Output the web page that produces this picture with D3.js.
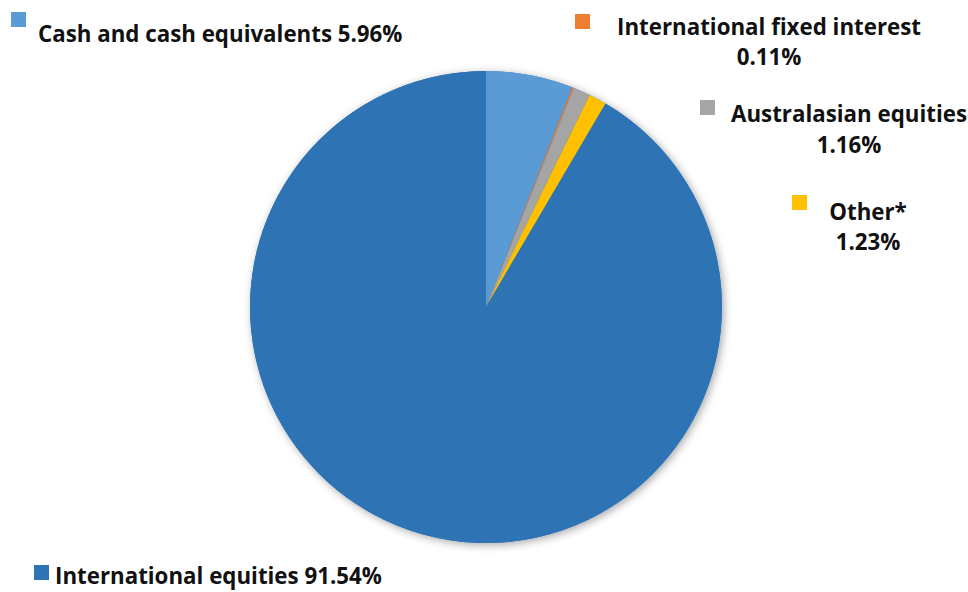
<!DOCTYPE html>
<html>
<head>
<meta charset="utf-8">
<script src="https://cdn.jsdelivr.net/npm/d3@7"></script>
<style>
  body { margin: 0; background: #fff; }
  svg text { font-family: "Open Sans", Lato, sans-serif; font-weight: 700; fill: #111; }
</style>
</head>
<body>
<div id="chart"></div>
<script>
// data
var categories = ["Cash and cash equivalents", "International fixed interest", "Australasian equities", "Other*", "International equities"];
var values = [5.96, 0.11, 1.16, 1.23, 91.54];
var colors = ["#5b9bd5", "#ed7d31", "#a5a5a5", "#ffc000", "#2e74b5"];

// label layout (legend square + text lines)
var labelLayout = [
    { sq: [11, 12], lines: [{ x: 38, y: 42, anchor: "start", text: d => d.cat + " " + d.pct }] },
    { sq: [575, 14], lines: [{ x: 769, y: 35, anchor: "middle", text: d => d.cat }, { x: 769, y: 65, anchor: "middle", text: d => d.pct }] },
    { sq: [700, 100], lines: [{ x: 849, y: 122, anchor: "middle", text: d => d.cat }, { x: 849, y: 153, anchor: "middle", text: d => d.pct }] },
    { sq: [792, 195], lines: [{ x: 868, y: 220, anchor: "middle", text: d => d.cat }, { x: 868, y: 250, anchor: "middle", text: d => d.pct }] },
    { sq: [34, 565], lines: [{ x: 55, y: 584, anchor: "start", text: d => d.cat + " " + d.pct }] }
];

var svgWidth = 968, svgHeight = 592;
var cx = 486, cy = 307, radius = 236;

var svg = d3.select("#chart").append("svg")
    .attr("width", svgWidth)
    .attr("height", svgHeight);

var defs = svg.append("defs");
var filter = defs.append("filter").attr("id", "shadow")
    .attr("x", "-20%").attr("y", "-20%").attr("width", "140%").attr("height", "140%");
filter.append("feDropShadow")
    .attr("dx", 2).attr("dy", 2).attr("stdDeviation", 4)
    .attr("flood-color", "#000").attr("flood-opacity", 0.35);

var data = categories.map(function (c, i) {
    return { cat: c, value: values[i], color: colors[i], pct: values[i].toFixed(2) + "%" };
});

var pie = d3.pie().sort(null).value(d => d.value);
var arc = d3.arc().innerRadius(0).outerRadius(radius);

var pieGroup = svg.append("g")
    .attr("transform", `translate(${cx}, ${cy})`);

pieGroup.append("circle")
    .attr("r", radius)
    .attr("fill", "#2e74b5")
    .attr("filter", "url(#shadow)");

pieGroup.selectAll("path")
    .data(pie(data))
    .enter()
    .append("path")
    .attr("d", arc)
    .attr("fill", d => d.data.color);

// labels
var labels = svg.selectAll("g.label")
    .data(data)
    .enter()
    .append("g")
    .attr("class", "label");

labels.append("rect")
    .attr("x", (d, i) => labelLayout[i].sq[0])
    .attr("y", (d, i) => labelLayout[i].sq[1])
    .attr("width", 15)
    .attr("height", 15)
    .attr("fill", d => d.color);

labels.each(function (d, i) {
    var g = d3.select(this);
    labelLayout[i].lines.forEach(function (ln) {
        g.append("text")
            .attr("x", ln.x)
            .attr("y", ln.y)
            .attr("text-anchor", ln.anchor)
            .style("font-size", "22.3px")
            .text(ln.text(d));
    });
});
</script>
</body>
</html>
